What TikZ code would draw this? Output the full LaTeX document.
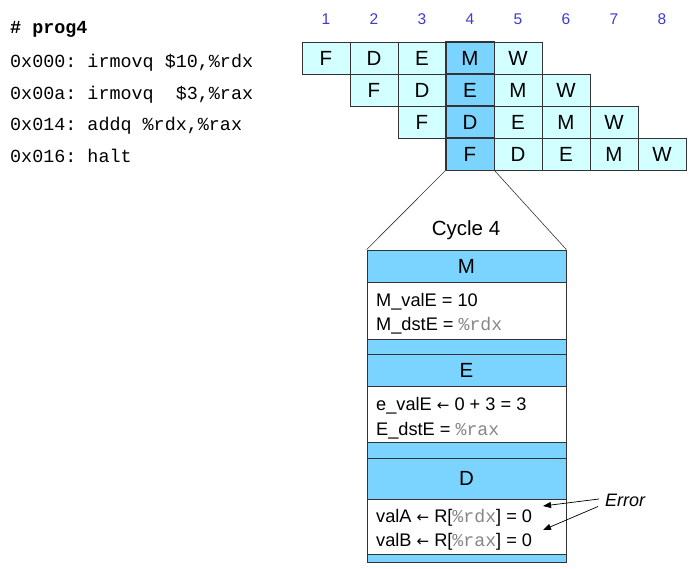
\documentclass[tikz,border=0pt]{standalone}
\usepackage{fontspec}
\setmainfont{Liberation Sans}
\newfontfamily\codefont{Liberation Mono}
\newfontfamily\arrowfont{DejaVu Sans}
\usetikzlibrary{arrows.meta}
\definecolor{stagelight}{RGB}{210,255,255}
\definecolor{stagedark}{RGB}{122,212,255}
\definecolor{cyclenum}{RGB}{60,60,210}
\definecolor{regtext}{RGB}{135,135,135}
\newcommand{\reg}[1]{{\codefont\color{regtext}\%#1}}
\newcommand{\getsarrow}{{\arrowfont\fontsize{15}{18}\selectfont ←}}
\begin{document}
\begin{tikzpicture}[x=1pt,y=-1pt,
  cell/.style={draw=black!80,line width=0.8pt,minimum width=48pt,minimum height=32pt,
    inner sep=0pt,font=\fontsize{20.5}{22}\selectfont},
  cyclenumber/.style={text=cyclenum,font=\fontsize{15.5}{18}\selectfont,inner sep=0pt},
  codeline/.style={anchor=base west,inner sep=0pt,font=\codefont\frenchspacing\fontsize{18.4}{20}\selectfont},
  band/.style={draw=black!80,line width=0.8pt,fill=stagedark,minimum width=199pt,inner sep=0pt,
    font=\fontsize{20.5}{22}\selectfont},
  body/.style={draw=black!80,line width=0.8pt,fill=white,minimum width=199pt,inner sep=0pt},
  bodytext/.style={anchor=base west,inner sep=0pt,font=\fontsize{18.2}{20}\selectfont},
  errarrow/.style={-{Triangle[length=8pt,width=6pt]},line width=0.7pt}]
\useasboundingbox (0,0) rectangle (693,569);

% program listing
\node[codeline] (title) at (10,34) {\bfseries\# prog4};
\node[codeline] (i1) at (10,68) {0x000: irmovq \$10,\%rdx};
\node[codeline] (i2) at (10,99.5) {0x00a: irmovq~~\$3,\%rax};
\node[codeline] (i3) at (10,131) {0x014: addq \%rdx,\%rax};
\node[codeline] (i4) at (10,162.5) {0x016: halt};

% cycle numbers
\foreach \c in {1,...,8}
  \node[cyclenumber] (num\c) at ({326+(\c-1)*48},19) {\c};

% pipeline diagram
\foreach \r in {1,...,4}{
  \foreach \s/\l in {1/F,2/D,3/E,4/M,5/W}{
    \pgfmathtruncatemacro{\col}{\r+\s-1}
    \ifnum\col=4
      \node[cell,fill=stagedark] (r\r c\col) at ({326+(\col-1)*48},{58+(\r-1)*32}) {\l};
    \else
      \node[cell,fill=stagelight] (r\r c\col) at ({326+(\col-1)*48},{58+(\r-1)*32}) {\l};
    \fi
  }
}
% redraw the highlighted column so its border sits on top
\foreach \r in {1,...,4}
  \draw[draw=black!80,line width=0.8pt] (r\r c4.north west) rectangle (r\r c4.south east);

% stage contents in cycle 4
\node[band,minimum height=32pt] (Mhead) at (466.5,266) {M};
\node[body,minimum height=57pt] (Mbody) at (466.5,310.5) {};
\node[band,minimum height=15pt] (gapM) at (466.5,346.5) {};
\node[band,minimum height=32pt] (Ehead) at (466.5,370) {E};
\node[body,minimum height=56pt] (Ebody) at (466.5,414) {};
\node[band,minimum height=16pt] (gapE) at (466.5,450) {};
\node[band,minimum height=41pt] (Dhead) at (466.5,478.5) {D};
\node[body,minimum height=55pt] (Dbody) at (466.5,526.5) {};
\node[band,minimum height=8pt] (gapD) at (466.5,558) {};

\draw[line width=0.6pt,black!80] (r4c4.south west) -- (Mhead.north west);
\draw[line width=0.6pt,black!80] (r4c4.south east) -- (Mhead.north east);
\node[font=\fontsize{20.5}{22}\selectfont,anchor=base,inner sep=0pt] (cyc) at (466,236) {Cycle 4};

\node[bodytext] (mvale) at (376,306) {M\_valE = 10};
\node[bodytext] (mdste) at (376,330.5) {M\_dstE = \reg{rdx}};
\node[bodytext] (evale) at (376,410) {e\_valE \getsarrow{} 0 + 3 = 3};
\node[bodytext] (edste) at (376,435) {E\_dstE = \reg{rax}};
\node[bodytext] (vala) at (376,522) {valA \getsarrow{} R[\reg{rdx}] = 0};
\node[bodytext] (valb) at (376,546) {valB \getsarrow{} R[\reg{rax}] = 0};

% error annotation
\node[anchor=base west,inner sep=0pt,font=\itshape\fontsize{18}{20}\selectfont] (err) at (605,506) {Error};
\coordinate (erra) at (599,499);
\coordinate (errb) at (598,506.5);
\coordinate (hita) at (543,506);
\coordinate (hitb) at (543,530);
\draw[errarrow] (erra) -- (hita);
\draw[errarrow] (errb) -- (hitb);
\end{tikzpicture}
\end{document}
